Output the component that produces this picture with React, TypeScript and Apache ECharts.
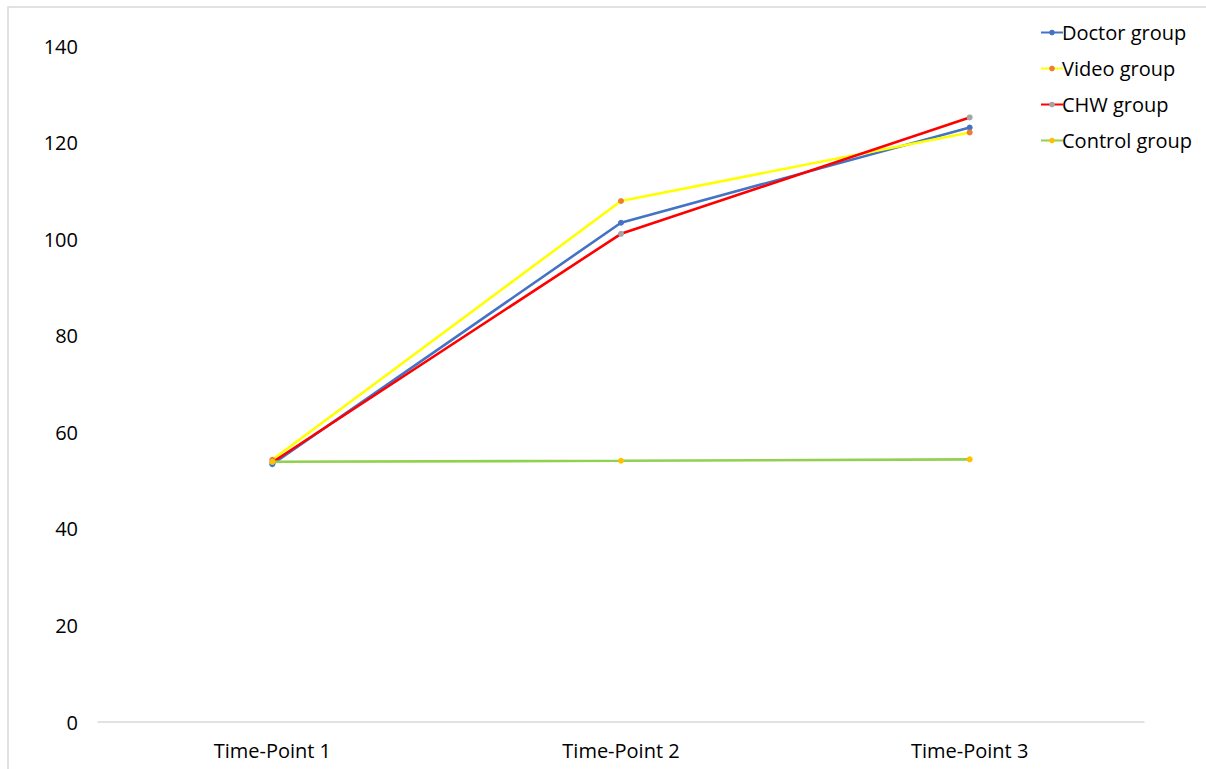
import React, { useEffect, useRef } from "react";
import * as echarts from "echarts";

const timePoints = ["Time-Point 1", "Time-Point 2", "Time-Point 3"];
const doctorGroup = [53.4, 103.4, 123.1];
const videoGroup = [54.3, 107.9, 122.1];
const chwGroup = [53.8, 101.1, 125.2];
const controlGroup = [53.9, 54.1, 54.4];

const FONT = "'Open Sans', 'Noto Sans', sans-serif";

function lineSeries(name: string, data: number[], lineColor: string, dotColor: string) {
  return {
    name,
    type: "line",
    data,
    symbol: "circle",
    symbolSize: 6,
    lineStyle: { color: lineColor, width: 2.6 },
    itemStyle: { color: dotColor, borderWidth: 0 },
    emphasis: { disabled: true },
  };
}

export default function App() {
  const ref = useRef<HTMLDivElement>(null);

  useEffect(() => {
    document.body.style.margin = "0";
    const chart = echarts.init(ref.current!, null, { renderer: "svg" });
    chart.setOption({
      animation: false,
      backgroundColor: "#ffffff",
      textStyle: { fontFamily: FONT },
      grid: { left: 98, right: 62, top: 46, bottom: 47 },
      graphic: [
        {
          type: "rect",
          shape: { x: 8, y: 7, width: 1220, height: 780 },
          style: { fill: "none", stroke: "#d9d9d9", lineWidth: 1.5 },
          silent: true,
        },
      ],
      legend: {
        orient: "vertical",
        left: 1035,
        top: 16,
        itemWidth: 22,
        itemHeight: 7,
        itemGap: 13,
        textStyle: {
          fontSize: 20,
          lineHeight: 23,
          color: "#000",
          fontFamily: FONT,
          padding: [0, 0, 0, -6],
        },
        data: ["Doctor group", "Video group", "CHW group", "Control group"],
      },
      xAxis: {
        type: "category",
        data: timePoints,
        boundaryGap: true,
        axisLine: { show: true, lineStyle: { color: "#d9d9d9", width: 1.5 } },
        axisTick: { show: false },
        axisLabel: { fontSize: 20, color: "#000", margin: 18, fontFamily: FONT },
      },
      yAxis: {
        type: "value",
        min: 0,
        max: 140,
        interval: 20,
        axisLine: { show: false },
        axisTick: { show: false },
        splitLine: { show: false },
        axisLabel: { fontSize: 20, color: "#000", margin: 20, fontFamily: FONT },
      },
      series: [
        lineSeries("Doctor group", doctorGroup, "#4472C4", "#4472C4"),
        lineSeries("Video group", videoGroup, "#FFFF00", "#ED7D31"),
        lineSeries("CHW group", chwGroup, "#FF0000", "#A5A5A5"),
        lineSeries("Control group", controlGroup, "#92D050", "#FFC000"),
      ],
    });
    return () => chart.dispose();
  }, []);

  return <div ref={ref} style={{ width: 1206, height: 769 }} />;
}
